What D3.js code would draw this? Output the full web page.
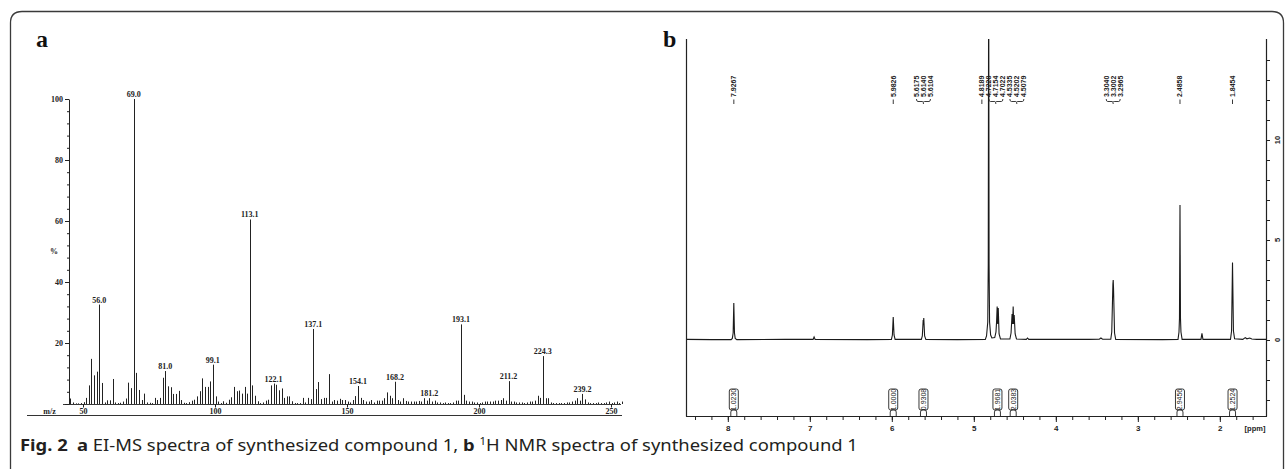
<!DOCTYPE html>
<html><head><meta charset="utf-8">
<script src="https://cdn.jsdelivr.net/npm/d3@7"></script>
<style>html,body{margin:0;padding:0;background:#fff;} svg{display:block;}</style>
</head><body>
<svg id="c" width="1285" height="469"></svg>
<script>
// ---------- Panel a : EI-MS ----------
const msMz = [45,46,47,48,49,50,51,52,53,54,55,56,57,58,59,60,61,62,63,64,65,66,67,68,69,70,71,72,73,74,75,76,77,78,79,80,81,82,83,84,85,86,87,88,89,90,91,92,93,94,95,96,97,98,99,100,101,102,103,104,105,106,107,108,109,110,111,112,113,114,115,116,117,118,119,120,121,122,123,124,125,126,127,128,129,130,131,132,133,134,135,136,137,138,139,140,141,142,143,144,145,146,147,148,149,150,151,152,153,154,155,156,157,158,159,160,161,162,163,164,165,166,167,168,169,170,171,172,173,174,175,176,177,178,179,180,181,182,183,184,185,186,187,188,189,190,191,192,193,194,195,196,197,198,199,200,201,202,203,204,205,206,207,208,209,210,211,212,213,214,215,216,217,218,219,220,221,222,223,224,225,226,227,228,229,230,231,232,233,234,235,236,237,238,239,240,241,242,243,244,245,246,247,248,249,250,251,252,253,254];
const msInt = [1.8,0.5,0.2,0.2,0.3,0.6,2.0,6.1,14.8,9.4,10.6,32.6,6.9,0.5,1.2,1.2,8.2,0.5,0.3,0.4,0.8,1.8,7.0,5.2,100,10.2,4.6,1.3,3.4,0.5,0.4,0.3,2.0,1.3,2.0,8.6,10.8,5.8,5.5,3.3,3.3,4.3,1.3,0.4,0.3,0.6,1.1,1.4,2.5,4.2,8.4,5.6,5.6,7.4,12.9,2.5,0.8,0.3,0.9,0.4,1.4,2.2,5.6,4.2,4.4,3.4,5.6,3.4,60.5,6.1,2.7,0.9,0.3,0.5,1.1,1.4,6.1,6.7,6.3,4.5,5.1,2.0,2.5,2.5,0.9,0.3,0.3,0.3,2.0,0.5,2.0,1.6,24.6,4.9,7.2,1.6,2.0,2.0,9.8,0.8,1.3,1.1,1.7,1.3,1.3,0.8,0.5,1.3,2.6,5.9,2.0,1.3,0.8,0.8,1.3,0.5,1.1,1.1,1.1,1.9,3.8,2.7,1.9,7.3,1.3,0.8,1.9,1.0,0.8,0.8,0.8,0.8,1.0,0.8,1.9,1.1,1.9,0.8,1.1,0.5,0.5,0.3,0.5,0.3,0.3,0.5,1.1,1.1,26.1,3.0,1.1,0.8,0.8,0.5,0.5,0.3,0.5,0.8,0.8,0.8,0.8,1.1,1.1,1.3,1.9,1.1,7.5,0.8,0.8,0.5,0.5,0.5,0.3,0.5,0.8,0.8,1.1,2.7,2.0,15.7,1.9,1.9,0.5,0.3,0.3,0.3,0.3,0.3,0.5,0.5,0.8,1.1,1.9,1.1,3.3,1.5,0.5,0.3,0.3,0.3,0.5,0.3,0.3,0.5,0.8,0.3,0.5,0.8,0.3,0.8];
const msPeakLabels = ["56.0","69.0","81.0","99.1","113.1","122.1","137.1","154.1","168.2","181.2","193.1","211.2","224.3","239.2"];
const msXTicks = [50,100,150,200,250];
const msYTicks = [0,20,40,60,80,100];

// ---------- Panel b : 1H NMR ----------
const nmrPpm = [8.51,8.2,7.96,7.945,7.935,7.927,7.919,7.91,7.89,7.3,6.96,6.948,6.935,6.3,6.005,5.993,5.983,5.973,5.96,5.64,5.628,5.6175,5.614,5.6104,5.6,5.585,5.2,4.86,4.845,4.83,4.824,4.8189,4.814,4.808,4.795,4.78,4.745,4.73,4.7228,4.7154,4.709,4.7022,4.692,4.675,4.56,4.546,4.5335,4.527,4.5202,4.514,4.5079,4.496,4.48,4.36,4.345,4.33,3.6,3.47,3.45,3.43,3.33,3.318,3.304,3.3002,3.2965,3.284,3.27,2.7,2.51,2.498,2.492,2.4858,2.48,2.474,2.46,2.23,2.218,2.206,1.87,1.857,1.8454,1.834,1.82,1.72,1.69,1.67,1.635,1.61,1.55,1.437];
const nmrInt = [0.03,0.02,0.02,0.08,0.35,1.85,0.35,0.08,0.02,0.03,0.03,0.15,0.03,0.02,0.03,0.25,1.15,0.25,0.03,0.03,0.2,1.0,0.85,1.1,0.2,0.03,0.02,0.03,0.2,0.9,3.8,20,3.8,0.9,0.25,0.1,0.12,0.4,0.9,1.67,0.8,1.6,0.3,0.05,0.05,0.35,1.3,0.8,1.67,0.8,1.25,0.3,0.05,0.03,0.1,0.03,0.03,0.04,0.1,0.04,0.04,0.4,2.8,3.0,2.6,0.35,0.03,0.02,0.03,0.4,1.1,6.75,1.1,0.4,0.03,0.03,0.33,0.03,0.03,0.45,3.88,0.45,0.06,0.03,0.12,0.06,0.1,0.05,0.03,0.03];
const nmrShiftLabels = ["7.9267","5.9826","5.6175","5.6140","5.6104","4.8189","4.7228","4.7154","4.7022","4.5335","4.5202","4.5079","3.3040","3.3002","3.2965","2.4858","1.8454"];
const nmrShiftCluster = [0,1,2,2,2,3,3,3,3,3,3,3,4,4,4,5,6];
const nmrShiftGroup = [0,1,2,2,2,3,4,4,4,5,5,5,6,6,6,7,8];
const nmrIntegrals = ["1.0230","1.0000","0.9308","1.9681","2.0383","2.9456","1.2524"];
const nmrIntegralPpm = [7.927,5.983,5.614,4.712,4.52,2.486,1.845];
const nmrXTicks = [8,7,6,5,4,3,2];
const nmrYTicks = [0,5,10];

const svg = d3.select("#c");
const ink = "#222";

// frame
svg.append("path")
  .attr("d","M10.5,480 L10.5,23 Q10.5,11.5 22,11.5 L1272,11.5 Q1283.5,11.5 1283.5,23 L1283.5,480")
  .attr("fill","none").attr("stroke","#3a3a3a").attr("stroke-width",1.3);

// ============ Panel a ============
const gA = svg.append("g");
gA.append("text").attr("x",36).attr("y",46.5).text("a")
  .attr("font-family","Liberation Serif, DejaVu Serif, serif").attr("font-weight","bold").attr("font-size",24).attr("fill","#111");

const xa = d3.scaleLinear().domain([50,250]).range([83.5,611.5]);
const ya = d3.scaleLinear().domain([0,100]).range([404,99]);
const serif = "Liberation Serif, DejaVu Serif, serif";

// y axis minor
gA.append("g").attr("transform","translate(69,0)")
  .call(d3.axisLeft(ya).tickValues(d3.range(0,101,4)).tickSize(2).tickSizeOuter(0).tickFormat(""))
  .call(g=>g.select(".domain").remove())
  .call(g=>g.selectAll("line").attr("stroke",ink));
// y axis major
gA.append("g").attr("transform","translate(69,0)")
  .call(d3.axisLeft(ya).tickValues(msYTicks).tickSize(4).tickSizeOuter(0).tickPadding(2).tickFormat(d=>d===0?"":d))
  .call(g=>g.select(".domain").attr("stroke",ink))
  .call(g=>g.selectAll("line").attr("stroke",ink))
  .call(g=>g.selectAll("text").attr("font-family",serif).attr("font-weight","bold").attr("font-size",8).attr("fill",ink));
gA.append("text").attr("x",54).attr("y",254).attr("text-anchor","middle").text("%")
  .attr("font-family",serif).attr("font-weight","bold").attr("font-size",8).attr("fill",ink);

// spectrum baseline
gA.append("line").attr("x1",63).attr("x2",621).attr("y1",ya(0)+0.5).attr("y2",ya(0)+0.5).attr("stroke",ink).attr("stroke-width",0.9);
// bars
gA.append("g").selectAll("line").data(msMz).join("line")
  .attr("x1",(d)=>Math.round(xa(d))+0.5).attr("x2",(d)=>Math.round(xa(d))+0.5)
  .attr("y1",ya(0)).attr("y2",(d,i)=>ya(msInt[i]))
  .attr("stroke",ink).attr("stroke-width",1);
// peak labels
gA.append("g").selectAll("text").data(msPeakLabels).join("text")
  .attr("x",d=>xa(Math.round(+d)))
  .attr("y",d=>ya(msInt[msMz.indexOf(Math.round(+d))])-2)
  .attr("text-anchor","middle").text(d=>d)
  .attr("font-family",serif).attr("font-weight","bold").attr("font-size",8).attr("fill",ink);

// x axis
gA.append("line").attr("x1",27).attr("x2",622).attr("y1",415.5).attr("y2",415.5).attr("stroke","#333").attr("stroke-width",1);
gA.append("g").selectAll("line").data(msXTicks).join("line")
  .attr("x1",d=>xa(d)).attr("x2",d=>xa(d)).attr("y1",ya(0)).attr("y2",ya(0)+3.5).attr("stroke",ink);
gA.append("g").selectAll("text").data(msXTicks).join("text")
  .attr("x",d=>xa(d)).attr("y",414).attr("text-anchor","middle").text(d=>d)
  .attr("font-family",serif).attr("font-weight","bold").attr("font-size",8).attr("fill",ink);
gA.append("text").attr("x",49.5).attr("y",413.5).attr("text-anchor","middle").text("m/z")
  .attr("font-family",serif).attr("font-weight","bold").attr("font-size",8).attr("fill",ink);

// ============ Panel b ============
const gB = svg.append("g");
const sans = "Liberation Sans, Arial, sans-serif";
gB.append("text").attr("x",663).attr("y",47).text("b")
  .attr("font-family",serif).attr("font-weight","bold").attr("font-size",24).attr("fill","#111");

const xb = d3.scaleLinear().domain([8.51,1.437]).range([686,1266]);
const yb = d3.scaleLinear().domain([-3,15]).range([400,40]);
const axisY = 416.5;

svg.append("defs").append("clipPath").attr("id","clipB")
  .append("rect").attr("x",686).attr("y",39).attr("width",580).attr("height",377);

// spectrum line
gB.append("path").datum(nmrPpm)
  .attr("clip-path","url(#clipB)")
  .attr("d",d3.line().x(d=>xb(d)).y((d,i)=>yb(nmrInt[i])))
  .attr("fill","none").attr("stroke","#1a1a1a").attr("stroke-width",1.1);

// left frame line
gB.append("line").attr("x1",686.5).attr("x2",686.5).attr("y1",39).attr("y2",axisY).attr("stroke",ink).attr("stroke-width",1.2);
// right axis line
gB.append("line").attr("x1",1266.5).attr("x2",1266.5).attr("y1",39).attr("y2",axisY).attr("stroke",ink).attr("stroke-width",1.2);
gB.append("g").attr("transform","translate(1266.5,0)")
  .call(d3.axisRight(yb).tickValues(d3.range(-3,15,1)).tickSize(3.5).tickFormat(""))
  .call(g=>g.select(".domain").remove())
  .call(g=>g.selectAll("line").attr("stroke",ink));
gB.append("g").selectAll("text").data(nmrYTicks).join("text")
  .attr("transform",d=>`translate(1277,${yb(d)}) rotate(-90)`)
  .attr("text-anchor","middle").attr("dy","0.35em").text(d=>d)
  .attr("font-family",sans).attr("font-weight","bold").attr("font-size",7.5).attr("fill",ink);

// bottom axis
gB.append("line").attr("x1",686).attr("x2",1267).attr("y1",axisY).attr("y2",axisY).attr("stroke",ink).attr("stroke-width",1.2);
gB.append("g").attr("transform",`translate(0,${axisY})`)
  .call(d3.axisBottom(xb).tickValues(d3.range(8.4,1.5,-0.2)).tickSize(3.5).tickFormat(""))
  .call(g=>g.select(".domain").remove())
  .call(g=>g.selectAll("line").attr("stroke",ink));
gB.append("g").attr("transform",`translate(0,${axisY})`)
  .call(d3.axisBottom(xb).tickValues(nmrXTicks).tickSize(5.5).tickPadding(3.5).tickFormat(d3.format("d")))
  .call(g=>g.select(".domain").remove())
  .call(g=>g.selectAll("line").attr("stroke",ink))
  .call(g=>g.selectAll("text").attr("font-family",sans).attr("font-weight","bold").attr("font-size",8).attr("fill",ink));
gB.append("text").attr("x",1255).attr("y",430.5).attr("text-anchor","middle").text("[ppm]")
  .attr("font-family",sans).attr("font-weight","bold").attr("font-size",7.5).attr("fill",ink);

// chemical shift labels
const colGap = 7;
const clusterIds = Array.from(new Set(nmrShiftCluster));
const labelX = new Array(nmrShiftLabels.length);
clusterIds.forEach(c=>{
  const idx = nmrShiftCluster.map((v,i)=>v===c?i:-1).filter(i=>i>=0);
  const cx = d3.mean(idx,i=>xb(+nmrShiftLabels[i]));
  idx.forEach((i,k)=>{ labelX[i] = cx + (k-(idx.length-1)/2)*colGap; });
});
gB.append("g").selectAll("text").data(nmrShiftLabels).join("text")
  .attr("transform",(d,i)=>`translate(${labelX[i]},97) rotate(-90)`)
  .attr("dy","0.35em").attr("text-anchor","start").text(d=>d)
  .attr("font-family",sans).attr("font-weight","bold").attr("font-size",7).attr("fill",ink);
const groupIds = Array.from(new Set(nmrShiftGroup));
groupIds.forEach(g=>{
  const idx = nmrShiftGroup.map((v,i)=>v===g?i:-1).filter(i=>i>=0);
  const xs = idx.map(i=>labelX[i]);
  const x1 = d3.min(xs), x2 = d3.max(xs), xm = (x1+x2)/2;
  let d;
  if (idx.length===1) d = `M${xm},99.5 L${xm},104`;
  else d = `M${x1},99 Q${x1},101.5 ${x1+1.5},101.5 L${xm-1},101.5 Q${xm},101.5 ${xm},104 M${xm},101.5 Q${xm},101.5 ${xm+1},101.5 L${x2-1.5},101.5 Q${x2},101.5 ${x2},99`;
  gB.append("path").attr("d",d).attr("fill","none").attr("stroke",ink).attr("stroke-width",0.9);
});

// integrals
const gI = gB.append("g");
nmrIntegrals.forEach((t,i)=>{
  const cx = xb(nmrIntegralPpm[i]);
  gI.append("rect").attr("x",cx-4.5).attr("y",389).attr("width",9).attr("height",21).attr("rx",2)
    .attr("fill","#fff").attr("stroke",ink).attr("stroke-width",0.9);
  gI.append("text").attr("transform",`translate(${cx},399.5) rotate(-90)`)
    .attr("text-anchor","middle").attr("dy","0.35em").text(t)
    .attr("font-family",sans).attr("font-size",7).attr("fill",ink);
  gI.append("path")
    .attr("d",`M${cx-3},${axisY} L${cx-3},412 Q${cx-3},409.5 ${cx},409.5 Q${cx+3},409.5 ${cx+3},412 L${cx+3},${axisY}`)
    .attr("fill","none").attr("stroke",ink).attr("stroke-width",0.9);
});

// ============ Caption ============
const cap = svg.append("text").attr("x",20).attr("y",451)
  .attr("font-family","Noto Sans, Open Sans, sans-serif").attr("font-size",16).attr("fill","#231f20");
cap.append("tspan").attr("font-weight","bold").text("Fig. 2");
cap.append("tspan").text("\u2002");
cap.append("tspan").attr("font-weight","bold").text("a");
cap.append("tspan").text(" EI-MS spectra of synthesized compound 1, ");
cap.append("tspan").attr("font-weight","bold").text("b");
cap.append("tspan").text(" ");
cap.append("tspan").attr("font-size",10).attr("dy",-6).text("1");
cap.append("tspan").attr("dy",6).text("H NMR spectra of synthesized compound 1");
const w = cap.node().getComputedTextLength();
const s = 838 / w;
cap.attr("transform",`translate(20,0) scale(${s},1) translate(-20,0)`);
</script>
</body></html>
